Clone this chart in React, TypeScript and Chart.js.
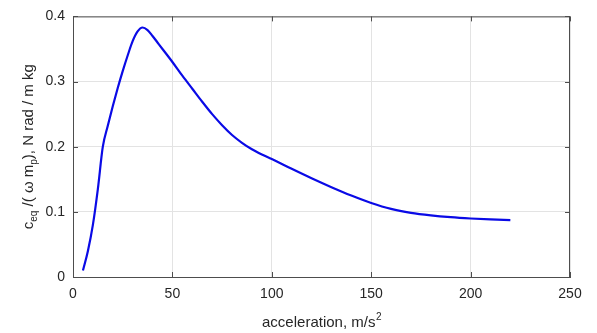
import React, { useEffect, useRef } from "react";
import { Chart, registerables } from "chart.js";

Chart.register(...registerables);

const xValues = [5, 7.5, 10, 12.5, 15, 17.5, 20, 22.5, 25, 27.5, 30, 32.5, 35, 37.5, 40, 42.5, 45, 50, 55, 60, 65, 70, 75, 80, 85, 90, 95, 100, 110, 120, 130, 140, 150, 160, 170, 180, 190, 200, 210, 220];
const yValues = [0.01, 0.04, 0.08, 0.135, 0.2, 0.232, 0.262, 0.29, 0.316, 0.34, 0.362, 0.377, 0.383, 0.379, 0.37, 0.36, 0.35, 0.33, 0.309, 0.289, 0.269, 0.25, 0.233, 0.218, 0.206, 0.196, 0.188, 0.181, 0.166, 0.1515, 0.1378, 0.125, 0.1136, 0.1045, 0.0985, 0.0946, 0.0918, 0.0898, 0.0883, 0.0872];
const xTicks = [0, 50, 100, 150, 200, 250];
const yTicks = [0, 0.1, 0.2, 0.3, 0.4];
const xTitle = "acceleration, m/s";
const xTitleSup = "2";
const yTitleParts: [string, boolean][] = [
  ["c", false],
  ["eq", true],
  [" /( \u03c9 m", false],
  ["p", true],
  ["), N rad / m kg", false],
];

const FONT = "'Liberation Sans', Arial, sans-serif";
const TEXT = "#262626";

const framePlugin = {
  id: "frame",
  afterDraw(chart: any) {
    const { ctx, chartArea: a, scales } = chart;
    const xs = scales.x;
    const ys = scales.y;
    ctx.save();
    ctx.strokeStyle = "#4d4d4d";
    ctx.lineWidth = 1;
    ctx.beginPath();
    ctx.moveTo(a.left, a.top + 0.5);
    ctx.lineTo(a.right, a.top + 0.5);
    ctx.moveTo(a.right - 0.5, a.top);
    ctx.lineTo(a.right - 0.5, a.bottom);
    const tl = 5;
    xTicks.forEach((v) => {
      const px = Math.round(xs.getPixelForValue(v)) + 0.5;
      ctx.moveTo(px, a.bottom);
      ctx.lineTo(px, a.bottom - tl);
      ctx.moveTo(px, a.top);
      ctx.lineTo(px, a.top + tl);
    });
    yTicks.forEach((v) => {
      const py = Math.round(ys.getPixelForValue(v)) + 0.5;
      ctx.moveTo(a.left, py);
      ctx.lineTo(a.left + tl, py);
      ctx.moveTo(a.right, py);
      ctx.lineTo(a.right - tl, py);
    });
    ctx.stroke();

    // x title
    ctx.fillStyle = TEXT;
    ctx.textBaseline = "alphabetic";
    ctx.font = `15px ${FONT}`;
    const w1 = ctx.measureText(xTitle).width;
    ctx.font = `10px ${FONT}`;
    const w2 = ctx.measureText(xTitleSup).width;
    const cx = (a.left + a.right) / 2;
    const by = 327;
    let sx = cx - (w1 + w2) / 2;
    ctx.font = `15px ${FONT}`;
    ctx.textAlign = "left";
    ctx.fillText(xTitle, sx, by);
    ctx.font = `10px ${FONT}`;
    ctx.fillText(xTitleSup, sx + w1 + 0.5, by - 7);

    // y title
    ctx.translate(33, (a.top + a.bottom) / 2);
    ctx.rotate(-Math.PI / 2);
    let total = 0;
    yTitleParts.forEach(([s, sub]) => {
      ctx.font = sub ? `10px ${FONT}` : `15px ${FONT}`;
      total += ctx.measureText(s).width;
    });
    let px = -total / 2;
    yTitleParts.forEach(([s, sub]) => {
      ctx.font = sub ? `10px ${FONT}` : `15px ${FONT}`;
      ctx.fillText(s, px, sub ? 4 : 0);
      px += ctx.measureText(s).width;
    });
    ctx.restore();
  },
};

export default function App() {
  const ref = useRef<HTMLCanvasElement>(null);
  useEffect(() => {
    document.body.style.margin = "0";
    const chart = new Chart(ref.current!, {
      type: "line",
      data: {
        datasets: [
          {
            data: xValues.map((x, i) => ({ x, y: yValues[i] })),
            borderColor: "#0a0ae6",
            borderWidth: 2.2,
            pointRadius: 0,
            cubicInterpolationMode: "monotone",
            fill: false,
          },
        ],
      },
      options: {
        animation: false,
        responsive: false,
        layout: { padding: { top: 10, right: 27, left: 0, bottom: 0 } },
        plugins: { legend: { display: false }, tooltip: { enabled: false } },
        scales: {
          x: {
            type: "linear",
            min: 0,
            max: 250,
            afterBuildTicks: (s: any) => {
              s.ticks = xTicks.map((v) => ({ value: v }));
            },
            afterFit: (s: any) => {
              s.height = 56;
            },
            ticks: {
              color: TEXT,
              font: { family: FONT, size: 14 },
              padding: 9,
              maxRotation: 0,
            },
            grid: { color: "#e3e3e3", drawTicks: false },
            border: { color: "#4d4d4d", width: 1 },
          },
          y: {
            type: "linear",
            min: 0,
            max: 0.4,
            afterBuildTicks: (s: any) => {
              s.ticks = yTicks.map((v) => ({ value: v }));
            },
            afterFit: (s: any) => {
              s.width = 73;
            },
            ticks: {
              color: TEXT,
              font: { family: FONT, size: 14 },
              padding: 8,
              callback: (v: any) => String(Number(Number(v).toFixed(1))),
            },
            grid: { color: "#e3e3e3", drawTicks: false },
            border: { color: "#4d4d4d", width: 1 },
          },
        },
      },
      plugins: [framePlugin],
    } as any);
    return () => chart.destroy();
  }, []);
  return (
    <div style={{ position: "relative", width: 597, height: 333, background: "#fff" }}>
      <canvas ref={ref} width={597} height={333} style={{ display: "block" }} />
    </div>
  );
}
